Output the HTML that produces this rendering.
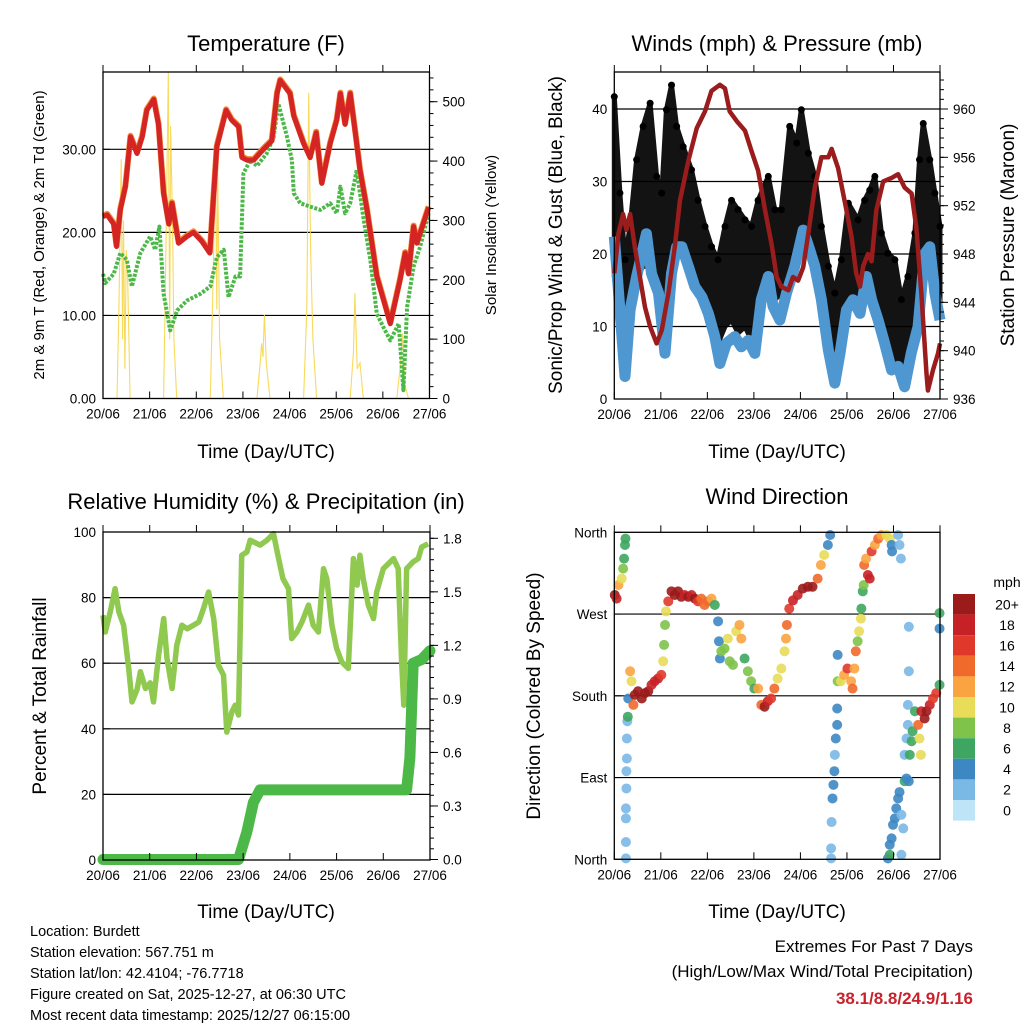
<!DOCTYPE html>
<html><head><meta charset="utf-8"><style>
html,body{margin:0;padding:0;background:#fff}
svg{display:block;font-family:"Liberation Sans",Arial,sans-serif}
</style></head><body>
<svg id="chart" width="1024" height="1024" viewBox="0 0 1024 1024" xmlns="http://www.w3.org/2000/svg">
<rect width="1024" height="1024" fill="#fff"/>
<g id="p1"></g>
<g id="p2"></g>
<g id="p3"></g>
<g id="p4"></g>
<g font-size="22" text-anchor="middle" fill="#000">
<text x="266" y="51">Temperature (F)</text>
<text x="777" y="51">Winds (mph) &amp; Pressure (mb)</text>
<text x="266" y="509">Relative Humidity (%) &amp; Precipitation (in)</text>
<text x="777" y="504">Wind Direction</text>
</g>
<g font-size="19" text-anchor="middle">
<text x="266" y="458">Time (Day/UTC)</text>
<text x="777" y="458">Time (Day/UTC)</text>
<text x="266" y="918">Time (Day/UTC)</text>
<text x="777" y="918">Time (Day/UTC)</text>
<text transform="translate(44,235) rotate(-90)" font-size="15">2m &amp; 9m T (Red, Orange) &amp; 2m Td (Green)</text>
<text transform="translate(496,235) rotate(-90)" font-size="15">Solar Insolation (Yellow)</text>
<text transform="translate(562,235) rotate(-90)">Sonic/Prop Wind &amp; Gust (Blue, Black)</text>
<text transform="translate(1014,235) rotate(-90)">Station Pressure (Maroon)</text>
<text transform="translate(46,696) rotate(-90)">Percent &amp; Total Rainfall</text>
<text transform="translate(540,696) rotate(-90)">Direction (Colored By Speed)</text>
</g>
<g font-size="14.5">
<text x="30" y="936">Location: Burdett</text>
<text x="30" y="957">Station elevation: 567.751 m</text>
<text x="30" y="978">Station lat/lon: 42.4104; -76.7718</text>
<text x="30" y="999">Figure created on Sat, 2025-12-27, at 06:30 UTC</text>
<text x="30" y="1020">Most recent data timestamp: 2025/12/27 06:15:00</text>
</g>
<g font-size="17" text-anchor="end">
<text x="973" y="952">Extremes For Past 7 Days</text>
<text x="973" y="977">(High/Low/Max Wind/Total Precipitation)</text>
<text x="973" y="1004" fill="#c8232c" font-weight="bold">38.1/8.8/24.9/1.16</text>
</g>
<g id="cbar"><text x="1007" y="587" font-size="14" text-anchor="middle">mph</text></g>
</svg>
<script>
// ---------- data ----------
const dayLabels=["20/06","21/06","22/06","23/06","24/06","25/06","26/06","27/06"];
const tempTicks=[0,10,20,30];
const solarTicks=[0,100,200,300,400,500];
const windTicks=[0,10,20,30,40];
const pressTicks=[936,940,944,948,952,956,960];
const rhTicks=[0,20,40,60,80,100];
const rainTicks=[0.0,0.3,0.6,0.9,1.2,1.5,1.8];
const dirTicks=[0,90,180,270,360];
const dirNames=["North","East","South","West","North"];

const tT=[0,0.09,0.23,0.29,0.37,0.48,0.59,0.73,0.84,0.94,1.09,1.19,1.30,1.41,1.48,1.62,1.80,1.94,2.12,2.29,2.44,2.55,2.64,2.76,2.91,2.98,3.09,3.23,3.44,3.62,3.73,3.80,4.01,4.09,4.30,4.44,4.57,4.69,4.87,5.01,5.09,5.19,5.30,5.41,5.51,5.66,5.87,6.16,6.37,6.48,6.55,6.66,6.73,6.98];
const tempRed=[21.9,22.1,21,18.3,22.7,25.5,31.5,29.5,31.5,34.7,36,33,24.7,21,23.5,18.7,19.5,20,18.9,17.5,30.3,32.7,34.7,33.5,32.7,29,28.7,28.7,30,31,36.7,38.3,36.7,34,30.7,29,32,25.9,30.7,33.5,36.7,33,36.7,32,27.5,22.7,14.7,9,14.3,17.5,15,20.7,18.7,23];
const tD=[0,0.05,0.23,0.37,0.51,0.62,0.80,1.01,1.12,1.21,1.30,1.44,1.59,1.80,2.09,2.30,2.44,2.59,2.69,2.84,2.94,3.01,3.16,3.30,3.51,3.66,3.76,3.94,4.05,4.09,4.23,4.44,4.66,4.87,5.01,5.09,5.19,5.30,5.44,5.59,5.73,5.87,6.01,6.16,6.34,6.44,6.52,6.66,6.80,6.98];
const dewGreen=[15,13.9,15,17.5,16.7,13.5,17.5,19.5,17.9,20.7,12.6,8.2,10.6,11.8,12.6,13.5,17,17.9,12.2,14.7,14.7,27.1,28.7,28,29.5,31.5,35.5,31.6,28.7,24.7,23.5,23.1,22.7,23.5,22.3,25.5,22.3,23.5,27.5,21.5,16.7,10.2,8.6,7,9,1,11,15.9,18.3,22.3];
const tS=[0,0.30,0.34,0.39,0.42,0.44,0.47,0.50,0.53,0.58,1.30,1.34,1.40,1.43,1.45,1.49,1.52,1.58,2.30,2.36,2.41,2.44,2.46,2.50,2.58,3.30,3.37,3.40,3.43,3.46,3.50,3.58,4.30,4.37,4.41,4.45,4.50,4.58,5.30,5.37,5.40,5.45,5.51,5.58,6.30,6.38,6.42,6.48,6.55,7];
const solar=[0,0,150,403,100,300,50,250,200,0,0,200,549,100,459,300,100,0,0,200,414,150,380,100,0,0,60,93,70,141,60,0,0,150,515,250,100,0,0,80,177,50,60,0,0,60,110,20,0,0];

const tP=[0,0.09,0.19,0.26,0.34,0.44,0.55,0.66,0.77,0.91,1.02,1.16,1.30,1.41,1.59,1.77,1.95,2.09,2.27,2.38,2.48,2.63,2.81,2.95,3.09,3.24,3.38,3.49,3.59,3.74,3.84,3.95,4.06,4.17,4.31,4.45,4.60,4.67,4.81,4.95,5.10,5.20,5.28,5.35,5.45,5.53,5.63,5.78,5.96,6.10,6.24,6.39,6.49,6.60,6.71,6.74,6.85,6.96,7.0];
const pressure=[946.4,949.7,951.3,950,951.3,948.6,946.1,943.6,942,940.6,941.7,944.7,948.6,952.4,955.7,958.4,959.8,961.5,962,961.7,959.8,959,958.2,956.5,954.9,951.6,948.8,946.1,945.3,945,946.1,945.8,946.9,949.7,953.5,956,956,956.7,955.1,952.4,949.4,946.4,945.3,947,948,947.4,951.6,954,954.3,954.6,953.5,953,950.2,944.7,938.1,936.7,938.4,939.8,940.6];
const tW=[0,0.12,0.23,0.34,0.48,0.59,0.69,0.80,0.95,1.09,1.23,1.34,1.45,1.59,1.73,1.88,2.02,2.16,2.27,2.41,2.59,2.73,2.88,3.02,3.16,3.31,3.41,3.56,3.70,3.88,4.06,4.20,4.31,4.45,4.60,4.74,4.85,4.99,5.13,5.28,5.42,5.53,5.67,5.81,5.96,6.10,6.24,6.38,6.53,6.67,6.78,6.89,7.0];
const windSpeed=[22.4,12.3,3.1,12.3,16.9,20,22.8,17.3,14.6,6.3,17.3,21,21,18.3,15.5,14.1,11.8,8.6,4.9,7.7,8.6,7.2,8.1,6.3,13.7,16.9,12.8,10.9,14.6,18.3,23.3,20.6,18.3,13.7,6.8,2.2,6.3,12.3,13.7,11.8,16.9,13.7,10.9,7.7,4,4.5,1.7,6.3,10,20,21,14.6,10.9];
const tG=[0,0.12,0.23,0.34,0.48,0.62,0.77,0.91,1.02,1.12,1.23,1.34,1.48,1.66,1.80,1.95,2.09,2.23,2.38,2.52,2.66,2.81,2.95,3.09,3.31,3.45,3.59,3.77,3.92,4.02,4.17,4.31,4.45,4.60,4.74,4.88,5.03,5.24,5.38,5.49,5.60,5.74,5.88,6.03,6.17,6.31,6.46,6.56,6.64,6.78,6.89,7.0];
const gustHigh=[41.7,28.4,19.2,23.8,33,37.6,40.8,30.7,28.4,39.9,43.3,37.6,34.8,31.6,27.4,23.8,21,19.2,23.8,27.4,26.1,24.7,23.8,27.4,30.7,26.1,26.1,37.6,35.3,39.9,33.9,30.7,23.8,18.3,14.6,19.2,27,24.7,27.4,28.8,30.7,22.9,20.1,19.2,13.7,16.9,22.9,33,38,33,28.4,23.8];
const gustLow=[16.9,10,3.1,12.3,16.9,18.3,18.3,15.5,10.9,6.3,19.2,21,21.5,18.3,15.5,13.7,10.9,7.7,10,10.9,9.1,10,8.1,14.6,18.3,13.7,14.6,16.9,19.2,22.9,20.1,18.3,13.7,7.7,4.5,7.7,13.7,13.7,16.9,14.6,12.3,10,6.3,5.4,4,7.7,10.9,19.2,21.5,19.2,14.6,12.3];

const tH=[0,0.05,0.16,0.26,0.34,0.44,0.55,0.62,0.73,0.80,0.91,1.01,1.08,1.19,1.30,1.37,1.48,1.58,1.69,1.80,1.94,2.05,2.15,2.26,2.37,2.47,2.58,2.65,2.76,2.83,2.90,2.97,3.08,3.15,3.36,3.51,3.65,3.76,3.85,3.97,4.04,4.15,4.26,4.40,4.50,4.61,4.72,4.79,4.90,5.00,5.11,5.25,5.36,5.44,5.50,5.57,5.68,5.79,5.86,6.00,6.22,6.32,6.39,6.44,6.50,6.64,6.75,6.82,6.96];
const humidity=[74.6,69.5,76,82.7,75.6,71.6,58.4,48.2,52,57.4,52.3,54,48.2,62.4,73.6,61.4,52.3,65.5,71.6,70.5,71.6,72.6,76.6,81.7,73.6,59.4,56.4,39,45.2,47.2,44.2,92.9,93.9,97.5,96,97.5,99.5,91.9,85.8,82.7,67.5,69.5,72.6,77.7,71.6,69.5,88.8,85.8,71.6,64.5,60.4,58.4,91.9,83.8,92.9,85.8,77.7,73.6,81.7,88.8,91.9,88.8,61.4,47.2,88.8,90.9,91.9,95.4,96.4];
const tR=[0,2.90,3.08,3.22,3.36,6.50,6.57,6.64,6.82,7.0];
const rainTotal=[0,0,0.155,0.32,0.39,0.39,0.57,1.1,1.12,1.17];

const dirTime=[0.01,0.05,0.09,0.16,0.19,0.21,0.23,0.24,0.25,0.25,0.25,0.25,0.26,0.26,0.27,0.27,0.28,0.29,0.30,0.34,0.37,0.41,0.44,0.51,0.59,0.66,0.73,0.80,0.87,0.94,1.01,1.05,1.07,1.09,1.11,1.16,1.23,1.30,1.37,1.44,1.51,1.59,1.66,1.73,1.80,1.87,1.94,2.01,2.09,2.16,2.23,2.25,2.27,2.30,2.37,2.44,2.48,2.55,2.62,2.69,2.73,2.80,2.87,2.94,3.01,3.09,3.16,3.23,3.30,3.37,3.44,3.51,3.59,3.66,3.69,3.71,3.76,3.84,3.94,4.05,4.16,4.26,4.37,4.44,4.51,4.59,4.64,4.66,4.66,4.67,4.69,4.71,4.73,4.74,4.76,4.79,4.79,4.80,4.80,4.87,4.94,5.01,5.09,5.12,5.16,5.19,5.23,5.26,5.30,5.31,5.34,5.36,5.37,5.41,5.45,5.49,5.53,5.60,5.67,5.74,5.85,5.92,5.96,5.97,6.10,6.13,6.16,6.33,6.33,6.99,6.99,5.88,5.92,5.92,5.96,5.99,6.03,6.06,6.10,6.13,6.17,6.21,6.17,6.24,6.28,6.33,6.24,6.28,6.31,6.31,6.35,6.39,6.41,6.46,6.53,6.56,6.59,6.60,6.67,6.71,6.78,6.85,6.92,6.99];
const dirDeg=[291,287,302,309,320,331,346,353,1,19,45,56,78,97,111,133,152,157,177,207,196,170,181,185,177,183,185,192,196,199,203,218,236,258,273,284,295,291,295,289,291,289,291,287,284,287,280,284,287,280,262,240,221,229,232,243,218,214,251,258,243,221,207,196,188,188,170,168,174,177,188,199,210,229,243,258,276,285,291,298,300,300,309,324,335,346,357,1,12,41,67,82,97,115,133,148,166,196,225,196,203,210,196,188,210,229,240,251,265,276,295,302,324,331,313,309,339,346,353,357,357,353,346,339,357,346,331,256,207,271,254,1,5,16,23,38,45,56,67,74,49,34,5,86,89,86,115,133,148,170,115,130,141,163,148,133,115,163,155,163,170,177,183,192];
const dirSpeed=[20,18,12,10,8,6,6,6,2,2,2,2,2,2,3,2,3,6,4,12,10,14,20,20,20,20,20,18,18,18,16,10,8,8,10,16,20,20,20,20,18,20,18,20,16,14,14,14,12,6,4,4,4,8,8,10,8,8,10,12,12,6,8,8,6,12,14,20,18,16,14,10,10,10,12,14,16,18,18,20,20,20,14,12,10,4,4,2,2,2,4,4,4,2,4,4,4,8,4,10,12,16,12,14,12,14,8,10,10,6,6,8,14,12,18,18,16,12,14,12,10,10,4,4,2,2,2,2,2,6,4,4,6,4,4,4,4,4,4,4,2,2,2,6,4,4,2,2,2,2,6,6,6,6,14,10,10,18,20,20,18,16,16,6];
const speedBins=["0","2","4","6","8","10","12","14","16","18","20+"];
const speedColors=["#bde4f7","#7ab8e5","#3d87c2","#3ea660","#80c34b","#e8dc58","#f9a440","#f06a2c","#e0382b","#c62127","#9b1b1b"];

// ---------- helpers ----------
const NS="http://www.w3.org/2000/svg";
function mk(parent,tag,attrs){const e=document.createElementNS(NS,tag);for(const k in attrs)e.setAttribute(k,attrs[k]);parent.appendChild(e);return e;}
function lin(d0,d1,r0,r1){return v=>r0+(v-d0)*(r1-r0)/(d1-d0);}
function pathOf(xs,ys,sx,sy){return xs.map((t,i)=>(i?"L":"M")+sx(t).toFixed(1)+","+sy(ys[i]).toFixed(1)).join("");}

function frame(g,P,sx){
  dayLabels.forEach((lab,i)=>{
    const x=sx(i);
    const tk=mk(g,"line",{x1:x,x2:x,y1:P.y1,y2:P.y1-7,stroke:"#000","stroke-width":1});
    
    
    const tk2=mk(g,"line",{x1:x,x2:x,y1:P.y0,y2:P.y0-7,stroke:"#000","stroke-width":1});
    
    
    const t=mk(g,"text",{x:x,y:P.y1+20,"font-size":13.5,"text-anchor":"middle"});
    t.textContent=lab;
    
    
  });
}
function border(g,P){
  const r=mk(g,"rect",{x:P.x0,y:P.y0,width:P.x1-P.x0,height:P.y1-P.y0,fill:"none",stroke:"#000","stroke-width":1.3});
  
  
}
function leftAxis(g,P,ticks,sy,fmt,grid,labels){
  ticks.forEach((v,i)=>{
    const y=sy(v);
    if(grid && y>P.y0+2 && y<P.y1-2){
      const l=mk(g,"line",{x1:P.x0,x2:P.x1,y1:y,y2:y,stroke:"#000","stroke-width":1.2});
      
      
    }
    const tk=mk(g,"line",{x1:P.x0,x2:P.x0+7,y1:y,y2:y,stroke:"#000"});
    
    
    const t=mk(g,"text",{x:P.x0-7,y:y+5,"font-size":13.5,"text-anchor":"end"});
    t.textContent=labels?labels[i]:fmt(v);
    
    
  });
}
function rightAxis(g,P,ticks,sy,fmt){
  const step=ticks[1]-ticks[0];
  for(let v=ticks[0];sy(v)>=P.y0-0.5;v+=step/5){
    const y=sy(v);
    const tk=mk(g,"line",{x1:P.x1,x2:P.x1+4,y1:y,y2:y,stroke:"#000"});
    
    
  }
  ticks.forEach(v=>{
    const y=sy(v);
    const tk=mk(g,"line",{x1:P.x1,x2:P.x1+8,y1:y,y2:y,stroke:"#000"});
    
    
    const t=mk(g,"text",{x:P.x1+13,y:y+5,"font-size":13.5});
    t.textContent=fmt(v);
    
    
  });
}

// ---------- panel 1: temperature ----------
(function(){
  const g=document.getElementById("p1");
  const P={x0:103,x1:429.5,y0:72,y1:398.5};
  const sx=lin(0,7,P.x0,P.x1), sy=lin(0,30,P.y1,149.3), ss=lin(0,500,P.y1,101.7);
  leftAxis(g,P,tempTicks,sy,v=>v.toFixed(2),true);
  const s=mk(g,"path",{d:pathOf(tS,solar,sx,ss),fill:"none",stroke:"#f6d64a","stroke-width":1.1,opacity:0.9});
  
  
  const d=mk(g,"path",{d:pathOf(tD,dewGreen,sx,sy),fill:"none",stroke:"#4cb848","stroke-width":4,"stroke-dasharray":"3 1.5","stroke-linejoin":"round"});
  
  
  const o=mk(g,"path",{d:pathOf(tT,tempRed,sx,sy),fill:"none",stroke:"#f08a3a","stroke-width":6,"stroke-linejoin":"round",transform:"translate(0,-1)"});
  
  
  const r=mk(g,"path",{d:pathOf(tT,tempRed,sx,sy),fill:"none",stroke:"#d42424","stroke-width":5,"stroke-linejoin":"round"});
  
  
  rightAxis(g,P,solarTicks,ss,v=>String(v));
  frame(g,P,sx); border(g,P);
})();

// ---------- panel 2: winds ----------
(function(){
  const g=document.getElementById("p2");
  const P={x0:614.3,x1:940,y0:72,y1:399};
  const sx=lin(0,7,P.x0,P.x1), sy=lin(0,40,P.y1,109), sp=lin(936,960,P.y1,109);
  leftAxis(g,P,windTicks,sy,v=>String(v),true);
  const up=tG.map((t,i)=>sx(t).toFixed(1)+","+sy(gustHigh[i]).toFixed(1));
  const lo=tG.map((t,i)=>sx(t).toFixed(1)+","+sy(gustLow[i]).toFixed(1)).reverse();
  const band=mk(g,"polygon",{points:up.concat(lo).join(" "),fill:"#000",opacity:0.92,stroke:"#000","stroke-width":5,"stroke-linejoin":"round"});
  
  
  tG.forEach((t,i)=>{
    const c=mk(g,"circle",{cx:sx(t),cy:sy(gustHigh[i]),r:3.5,fill:"#000"});
    
    
  });
  const w=mk(g,"path",{d:pathOf(tW,windSpeed,sx,sy),fill:"none",stroke:"#4f97d0","stroke-width":11,"stroke-linejoin":"round"});
  
  
  const p=mk(g,"path",{d:pathOf(tP,pressure,sx,sp),fill:"none",stroke:"#9b1c1c","stroke-width":4.5,"stroke-linejoin":"round"});
  
  
  rightAxis(g,P,pressTicks,sp,v=>String(v));
  frame(g,P,sx); border(g,P);
})();

// ---------- panel 3: humidity ----------
(function(){
  const g=document.getElementById("p3");
  const P={x0:103,x1:430,y0:532,y1:860};
  const sx=lin(0,7,P.x0,P.x1), sy=lin(0,100,P.y1,P.y0), sr=lin(0,1.8,859.5,538.3);
  leftAxis(g,P,rhTicks,sy,v=>String(v),true);
  const h=mk(g,"path",{d:pathOf(tH,humidity,sx,sy),fill:"none",stroke:"#8fc94f","stroke-width":5.5,"stroke-linejoin":"round"});
  
  
  const r=mk(g,"path",{d:pathOf(tR,rainTotal,sx,sr),fill:"none",stroke:"#4cb848","stroke-width":11,"stroke-linejoin":"round","stroke-linecap":"round"});
  
  
  rightAxis(g,P,rainTicks,sr,v=>v.toFixed(1));
  frame(g,P,sx); border(g,P);
})();

// ---------- panel 4: wind direction ----------
(function(){
  const g=document.getElementById("p4");
  const P={x0:614.3,x1:940,y0:532.3,y1:859.3};
  const sx=lin(0,7,P.x0,P.x1), sy=lin(0,360,P.y1,P.y0);
  leftAxis(g,P,dirTicks,sy,null,true,dirNames);
  dirTime.forEach((t,i)=>{
    const k=Math.min(10,Math.floor(dirSpeed[i]/2));
    const c=mk(g,"circle",{cx:sx(t),cy:sy(dirDeg[i]),r:5,fill:speedColors[k],opacity:0.9});
    
    
  });
  frame(g,P,sx); border(g,P);
})();

// ---------- colorbar ----------
(function(){
  const g=document.getElementById("cbar");
  const top=594,h=20.6;
  for(let i=0;i<speedBins.length;i++){
    const k=speedBins.length-1-i;
    const r=mk(g,"rect",{x:953,y:top+i*h,width:22,height:h,fill:speedColors[k]});
    
    
    const t=mk(g,"text",{x:1007,y:top+i*h+h/2+5,"font-size":14,"text-anchor":"middle"});
    t.textContent=speedBins[k];
    
    
  }
})();
</script>
</body></html>
